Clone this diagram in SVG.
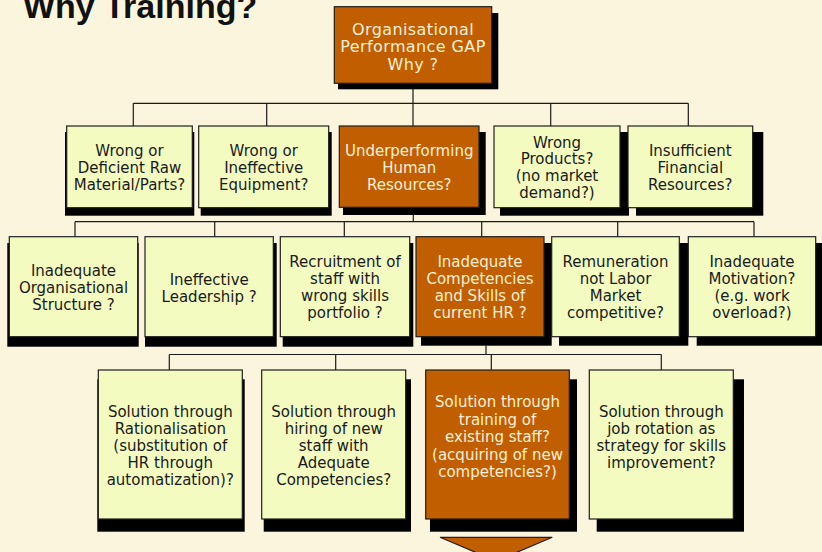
<svg xmlns="http://www.w3.org/2000/svg" width="822" height="552" viewBox="0 0 822 552">
<style>
.bg{fill:#FCF5DE}
.sh{fill:#000}
.lt{fill:#F3FBC0;stroke:#1e1e1e;stroke-width:1.2}
.or{fill:#C15F00;stroke:#1e1e1e;stroke-width:1.2}
.t{font-family:"DejaVu Sans",Verdana,sans-serif;font-size:15px;text-anchor:middle;fill:#1a1a1a}
.tw{font-family:"DejaVu Sans",Verdana,sans-serif;font-size:15px;text-anchor:middle;fill:#FCEFD9}
.big{font-size:16px;letter-spacing:0.4px}
.ttl{font-family:"Liberation Sans",Arial,sans-serif;font-size:34px;font-weight:bold;fill:#111}
.con{fill:none;stroke:#1a1a1a;stroke-width:1.2}
</style>
<rect class="bg" x="0" y="0" width="822" height="552"/>
<text class="ttl" x="23" y="17.5">Why Training?</text>

<g id="connectors">
<path class="con" d="M413,83V126M133.3,103.3H688.3M133.3,103.3V126M266.7,103.3V126M550.7,103.3V126M688.3,103.3V126"/>
<path class="con" d="M413.3,215V221.7M75,221.7H754M75,221.7V236.7M214.7,221.7V236.7M344.3,221.7V236.7M481.7,221.7V236.7M617.7,221.7V236.7M754,221.7V236.7"/>
<path class="con" d="M486,345.7V354.5M169.3,354.5H661.3M169.3,354.5V370M335.7,354.5V370M491.3,354.5V370M661.3,354.5V370"/>
</g>

<g id="n-top">
<rect class="sh" x="338" y="13" width="160.3" height="76.3"/>
<rect class="or" x="334.3" y="6.7" width="157.4" height="76.6"/>
<text class="tw big" x="413" y="34.5">Organisational</text>
<text class="tw big" x="413" y="52">Performance GAP</text>
<text class="tw big" x="413" y="70">Why ?</text>
</g>

<g id="n-raw">
<rect class="sh" x="65" y="132" width="129.3" height="83.7"/>
<rect class="lt" x="66.7" y="126" width="125.6" height="81.7"/>
<text class="t" x="129.5" y="156">Wrong or</text>
<text class="t" x="129.5" y="173">Deficient Raw</text>
<text class="t" x="129.5" y="190">Material/Parts?</text>
</g>

<g id="n-equip">
<rect class="sh" x="200.7" y="132" width="131" height="83.7"/>
<rect class="lt" x="198.7" y="126" width="130" height="81.7"/>
<text class="t" x="263.7" y="156">Wrong or</text>
<text class="t" x="263.7" y="173">Ineffective</text>
<text class="t" x="263.7" y="190">Equipment?</text>
</g>

<g id="n-hr">
<rect class="sh" x="343" y="132" width="142.7" height="83"/>
<rect class="or" x="339.3" y="126" width="139.7" height="81.3"/>
<text class="tw" x="409.2" y="156">Underperforming</text>
<text class="tw" x="409.2" y="173">Human</text>
<text class="tw" x="409.2" y="190">Resources?</text>
</g>

<g id="n-products">
<rect class="sh" x="500" y="132" width="129" height="83.7"/>
<rect class="lt" x="494" y="126" width="126" height="81.7"/>
<text class="t" x="557" y="147.5">Wrong</text>
<text class="t" x="557" y="164.3">Products?</text>
<text class="t" x="557" y="181">(no market</text>
<text class="t" x="557" y="197.7">demand?)</text>
</g>

<g id="n-finance">
<rect class="sh" x="636" y="132" width="127.3" height="83.7"/>
<rect class="lt" x="628" y="126" width="124.7" height="81.7"/>
<text class="t" x="690.3" y="156">Insufficient</text>
<text class="t" x="690.3" y="173">Financial</text>
<text class="t" x="690.3" y="190">Resources?</text>
</g>

<g id="n-structure">
<rect class="sh" x="7.3" y="243" width="131.4" height="103.7"/>
<rect class="lt" x="9.3" y="236.7" width="128.4" height="100"/>
<text class="t" x="73.5" y="275.7">Inadequate</text>
<text class="t" x="73.5" y="292.7">Organisational</text>
<text class="t" x="73.5" y="309.5">Structure ?</text>
</g>

<g id="n-leadership">
<rect class="sh" x="145" y="243" width="131.7" height="103.7"/>
<rect class="lt" x="145" y="236.7" width="128.3" height="100"/>
<text class="t" x="209.2" y="285">Ineffective</text>
<text class="t" x="209.2" y="302.3">Leadership ?</text>
</g>

<g id="n-recruit">
<rect class="sh" x="282.7" y="243" width="130.6" height="103.7"/>
<rect class="lt" x="280.3" y="236.7" width="129.4" height="100"/>
<text class="t" x="345" y="266.7">Recruitment of</text>
<text class="t" x="345" y="284">staff with</text>
<text class="t" x="345" y="301.3">wrong skills</text>
<text class="t" x="345" y="318.3">portfolio ?</text>
</g>

<g id="n-competencies">
<rect class="sh" x="421" y="243" width="130.7" height="102.7"/>
<rect class="or" x="416" y="236.7" width="128" height="100"/>
<text class="tw" x="480" y="266.7">Inadequate</text>
<text class="tw" x="480" y="284">Competencies</text>
<text class="tw" x="480" y="301.3">and Skills of</text>
<text class="tw" x="480" y="318.3">current HR ?</text>
</g>

<g id="n-remuneration">
<rect class="sh" x="559" y="243" width="129.3" height="102.7"/>
<rect class="lt" x="551.7" y="236.7" width="127.6" height="100"/>
<text class="t" x="615.5" y="266.7">Remuneration</text>
<text class="t" x="615.5" y="284">not Labor</text>
<text class="t" x="615.5" y="301.3">Market</text>
<text class="t" x="615.5" y="318.3">competitive?</text>
</g>

<g id="n-motivation">
<rect class="sh" x="696.7" y="243" width="128" height="102.7"/>
<rect class="lt" x="688.3" y="236.7" width="127.4" height="100"/>
<text class="t" x="752" y="266.7">Inadequate</text>
<text class="t" x="752" y="284">Motivation?</text>
<text class="t" x="752" y="301.3">(e.g. work</text>
<text class="t" x="752" y="318.3">overload?)</text>
</g>

<g id="n-rationalisation">
<rect class="sh" x="97.3" y="379.3" width="147.4" height="152.4"/>
<rect class="lt" x="98.3" y="370" width="144" height="149"/>
<text class="t" x="170.3" y="416.7">Solution through</text>
<text class="t" x="170.3" y="434">Rationalisation</text>
<text class="t" x="170.3" y="451">(substitution of</text>
<text class="t" x="170.3" y="468">HR through</text>
<text class="t" x="170.3" y="485">automatization)?</text>
</g>

<g id="n-hiring">
<rect class="sh" x="263.7" y="379.3" width="147.3" height="152.4"/>
<rect class="lt" x="261.7" y="370" width="144" height="149"/>
<text class="t" x="333.7" y="416.7">Solution through</text>
<text class="t" x="333.7" y="434">hiring of new</text>
<text class="t" x="333.7" y="451">staff with</text>
<text class="t" x="333.7" y="468">Adequate</text>
<text class="t" x="333.7" y="485">Competencies?</text>
</g>

<g id="n-training">
<rect class="sh" x="430" y="379.3" width="147" height="152.4"/>
<rect class="or" x="425.7" y="370" width="143.6" height="149"/>
<text class="tw" x="497.5" y="407.3">Solution through</text>
<text class="tw" x="497.5" y="424.7">training of</text>
<text class="tw" x="497.5" y="442">existing staff?</text>
<text class="tw" x="497.5" y="459.5">(acquiring of new</text>
<text class="tw" x="497.5" y="476.7">competencies?)</text>
</g>

<g id="n-rotation">
<rect class="sh" x="596.7" y="379.3" width="147.3" height="152.4"/>
<rect class="lt" x="589.3" y="370" width="144" height="149"/>
<text class="t" x="661.3" y="416.7">Solution through</text>
<text class="t" x="661.3" y="433.7">job rotation as</text>
<text class="t" x="661.3" y="450.7">strategy for skills</text>
<text class="t" x="661.3" y="467.5">improvement?</text>
</g>

<g id="n-arrow">
<polygon class="or" points="440,537.3 552.3,537.3 496.2,561"/>
</g>
</svg>
